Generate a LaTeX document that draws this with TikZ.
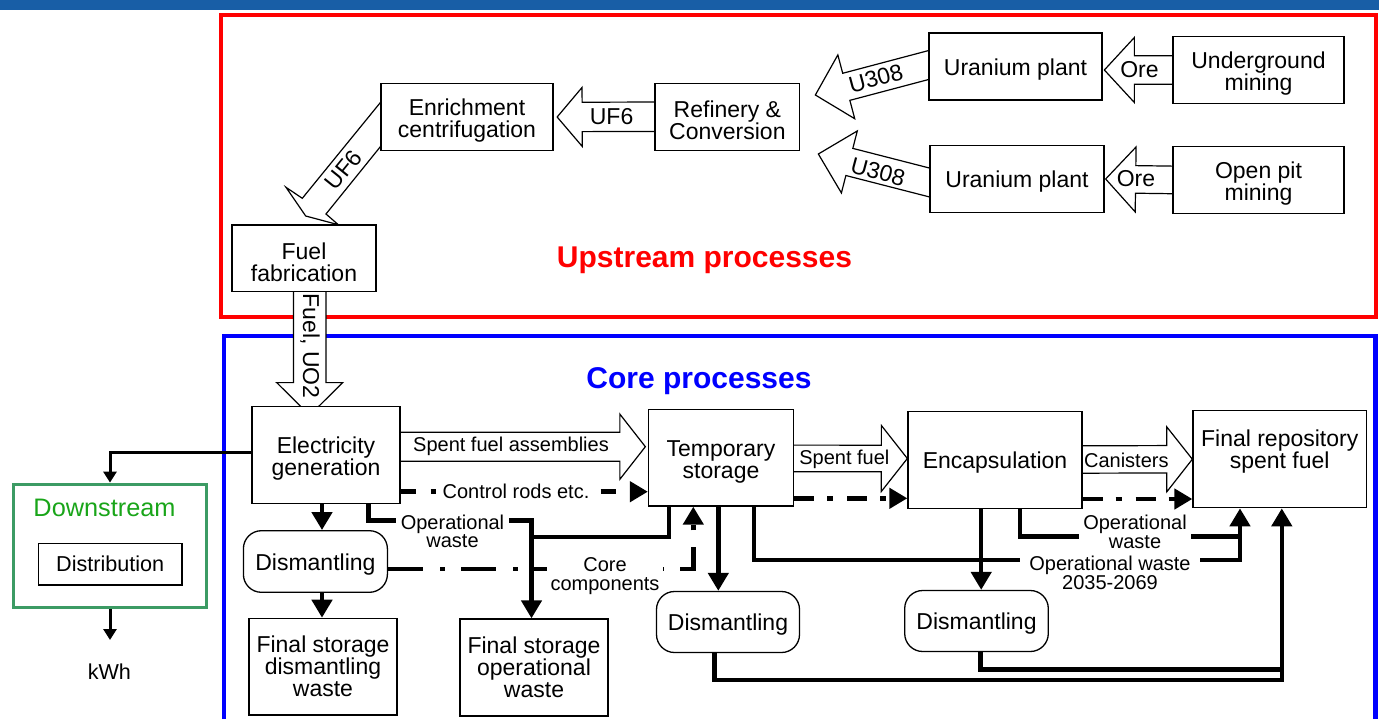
\documentclass[tikz,border=0pt]{standalone}
\usepackage{fontspec}
\setmainfont{Liberation Sans}
\usetikzlibrary{arrows.meta,calc}
\pgfdeclarelayer{back}
\pgfdeclarelayer{bg}
\pgfdeclarelayer{mid}
\pgfsetlayers{back,bg,mid,main}
\definecolor{topbar}{RGB}{24,94,166}
\definecolor{upred}{RGB}{255,0,0}
\definecolor{coreblue}{RGB}{0,0,255}
\definecolor{dgreen}{RGB}{60,155,100}
\definecolor{dtext}{RGB}{25,165,25}
\newcommand\mainfs{\fontsize{23}{22}\selectfont}
\newcommand\lblfs{\fontsize{20}{18.5}\selectfont}
\newcommand\blockarrow[5]{%
  \coordinate (ba-s) at #1;
  \coordinate (ba-t) at #2;
  \coordinate (ba-h) at ($(ba-t)!#5!(ba-s)$);
  \draw[hollow] ($(ba-s)!#3!90:(ba-t)$) -- ($(ba-h)!#3!90:(ba-t)$)
    -- ($(ba-h)!#4!90:(ba-t)$) -- (ba-t) -- ($(ba-h)!#4!-90:(ba-t)$)
    -- ($(ba-h)!#3!-90:(ba-t)$) -- ($(ba-s)!#3!-90:(ba-t)$) -- cycle;}
\begin{document}
\begin{tikzpicture}[x=1pt,y=-1pt,
  fbox/.style={draw, line width=1.3pt, fill=white, align=center, inner sep=2pt, font=\mainfs},
  box/.style={fbox, text height=22.5pt},
  box2/.style={fbox, text height=46.5pt},
  rbox/.style={box, rounded corners=18pt},
  txt/.style={align=center, inner sep=1pt, font=\mainfs},
  lbl/.style={align=center, inner sep=1pt, font=\lblfs},
  wlbl/.style={lbl, fill=white, inner xsep=4pt, inner ysep=1pt},
  hollow/.style={draw, line width=1.2pt, fill=white, line join=miter},
  wline/.style={line width=4.5pt, line join=miter},
  flow/.style={wline, -{Triangle[width=20pt,length=18pt]}},
  tflow/.style={line width=3pt, line join=miter, -{Triangle[width=13pt,length=11pt]}},
  dd1/.style={flow, dash pattern=on 15pt off 15pt on 5pt off 15pt},
  dd2/.style={flow, dash pattern=on 20pt off 13pt on 6pt off 14pt},
  dd3/.style={flow, dash pattern=on 35pt off 17pt on 5pt off 16pt},
  title/.style={font=\fontsize{30}{32}\selectfont\bfseries, inner sep=1pt}
]
\useasboundingbox (0,0) rectangle (1379,718);

% ---------- frames ----------
\begin{pgfonlayer}{back}
\fill[topbar] (0,0) rectangle (1379,9.5);
\draw[upred, line width=4.5pt] (221,15) rectangle (1376,317);
\draw[coreblue, line width=4.5pt] (224,336) rectangle (1375.5,740);
\end{pgfonlayer}

\node[title, text=upred] (uptitle) at (704.5,260.7) {Upstream processes};
\node[title, text=coreblue] (coretitle) at (699,380.7) {Core processes};

% ---------- upstream boxes ----------
\node[box2, minimum width=172pt, minimum height=67pt] (enr) at (467,116.7) {Enrichment\\centrifugation};
\node[box2, minimum width=144.7pt, minimum height=67pt] (ref) at (727.4,116.7) {Refinery \&\\Conversion};
\node[box, minimum width=173pt, minimum height=67pt] (up1) at (1015.5,66.5) {Uranium plant};
\node[box2, minimum width=171pt, minimum height=66.7pt] (ug) at (1258.5,70) {Underground\\mining};
\node[box, minimum width=174pt, minimum height=66.7pt] (up2) at (1017,179) {Uranium plant};
\node[box2, minimum width=171pt, minimum height=66.7pt] (op) at (1258.5,180) {Open pit\\mining};
\node[box2, minimum width=144pt, minimum height=66.7pt] (fuel) at (304,258.3) {Fuel\\fabrication};

% ---------- core boxes ----------
\node[box2, minimum width=148pt, minimum height=96.7pt] (elec) at (326,455) {Electricity\\generation};
\node[box2, minimum width=145pt, minimum height=96.7pt] (temp) at (721,457.7) {Temporary\\storage};
\node[box, minimum width=174pt, minimum height=96.7pt] (enc) at (995,460) {Encapsulation};
\node[fbox, minimum width=173.4pt, minimum height=97pt] (repo) at (1279.7,459.2) {};
\node[txt] (repotxt) at (1279.7,451.5) {Final repository\\spent fuel};
\node[rbox, minimum width=144pt, minimum height=61.6pt] (dis1) at (315.4,561.5) {Dismantling};
\node[rbox, minimum width=143pt, minimum height=61pt] (dis2) at (728,622) {Dismantling};
\node[rbox, minimum width=143.6pt, minimum height=61pt] (dis3) at (976.5,621) {Dismantling};
\node[fbox, minimum width=148pt, minimum height=96.7pt] (fsd) at (323,666.7) {Final storage\\dismantling\\waste};
\node[fbox, minimum width=148pt, minimum height=97pt] (fso) at (534,667.5) {Final storage\\operational\\waste};

% ---------- downstream ----------
\node[draw=dgreen, line width=3.2pt, minimum width=193pt, minimum height=123pt] (down) at (110,545.7) {};
\node[text=dtext, font=\fontsize{25.3}{28}\selectfont, inner sep=1pt] (downlbl) at (104.5,508.3) {Downstream};
\node[fbox, font=\fontsize{21.6}{24}\selectfont, minimum width=143.6pt, minimum height=41.7pt] (dist) at (110.2,564.2) {Distribution};
\node[font=\fontsize{21.6}{24}\selectfont, inner sep=1pt] (kwh) at (109.4,671.7) {kWh};
\coordinate (kwhin) at (110,640);

% ---------- hollow arrows ----------
\begin{pgfonlayer}{bg}
\blockarrow{($(ref.west)+(6,0)$)}{($(enr.east)+(3.5,0.3)$)}{14.7pt}{29.5pt}{25pt}
\blockarrow{($(up1.west)+(6,-3)$)}{($(up1.west)+(-113,28.5)$)}{14pt}{33pt}{32pt}
\blockarrow{($(up2.west)+(6,5)$)}{($(up2.west)+(-111,-25)$)}{14pt}{32pt}{32pt}
\blockarrow{($(ug.west)+(6,0)$)}{($(up1.east)+(1.7,3.5)$)}{14.2pt}{32.5pt}{30pt}
\blockarrow{($(op.west)+(6,0)$)}{($(up2.east)+(1,0)$)}{13.8pt}{32.5pt}{30pt}
\blockarrow{($(fuel.south)+(5.7,-6)$)}{($(elec.north)+(-16.3,9.3)$)}{16.3pt}{33pt}{32.7pt}
\blockarrow{($(elec.east)+(-5,-8.3)$)}{($(temp.west)+(-2.5,-11)$)}{14.5pt}{32.6pt}{25.5pt}
\blockarrow{($(temp.east)+(-5,0.7)$)}{($(enc.west)+(0,-1.5)$)}{13.3pt}{33pt}{26pt}
\blockarrow{($(enc.east)+(-5,-0.5)$)}{($(repo.west)+(0,0)$)}{13.7pt}{32.5pt}{25.6pt}
\draw[hollow] (386.5,95) -- (302.3,198.3) -- (286,187.3) -- (305.7,216) -- (338.3,224.7) -- (326,214) -- (389.8,135) -- cycle;

% ---------- thick connectors ----------
\draw[flow] ($(elec.south)+(-4,0)$) -- ($(dis1.north)+(6.6,0)$);
\draw[flow] ($(dis1.south)+(6.6,0)$) -- ($(fsd.north)+(-1,0)$);
\coordinate (owA) at (531.5,520.5);
\coordinate (owB) at (531.5,537);
\draw[flow] ($(elec.south)+(42.3,0)$) |- (owA) -- ($(fso.north)+(-2.5,0)$);
\draw[wline] ($(temp.south)+(-52,0)$) |- (owB);
\coordinate (rj1) at (1240,560);
\coordinate (rj2) at (1240,536.7);
\draw[flow] ($(temp.south)+(33,0)$) |- (rj1) -- ($(repo.south)+(-39.7,0)$);
\draw[wline] ($(enc.south)+(25,0)$) |- (rj2);
\draw[flow] ($(temp.south)+(-2.7,0)$) -- ($(dis2.north)+(-9.7,0)$);
\draw[flow] ($(enc.south)+(-13.8,0)$) -- ($(dis3.north)+(4.7,0)$);
\coordinate (rj3) at (1281.8,680);
\coordinate (rj4) at (1281.8,669.3);
\draw[flow] ($(dis2.south)+(-13.3,0)$) |- (rj3) -- ($(repo.south)+(2.1,0)$);
\draw[wline] ($(dis3.south)+(3.8,0)$) |- (rj4);

% ---------- dash-dot connectors ----------
\draw[dd1] ($(elec.east)+(0,36.7)$) -- ($(temp.west)+(0,34)$);
\draw[dd2] ($(temp.east)+(0,40.6)$) -- ($(enc.west)+(0,38.3)$);
\draw[dd2] ($(enc.east)+(0,39)$) -- ($(repo.west)+(0,39.8)$);
\draw[dd3] ($(dis1.east)+(0,7.5)$) -| ($(temp.south)+(-27.7,0)$);

% ---------- downstream connectors ----------
\draw[tflow] ($(elec.west)+(0,-2.7)$) -| (down.north);
\draw[tflow] (down.south) -- (kwhin);
\end{pgfonlayer}

% ---------- labels ----------
\begin{pgfonlayer}{mid}
\node[wlbl] (lcr) at (516,491.7) {Control rods etc.};
\node[wlbl, inner xsep=5pt] (low1) at (452.5,531.2) {Operational\\waste};
\node[wlbl] (lcc) at (605,576) {Core\\components};
\node[wlbl, inner xsep=4pt] (low2) at (1135,531.7) {Operational\\waste};
\node[wlbl, inner xsep=9pt] (low3) at (1110,573) {Operational waste\\2035-2069};
\end{pgfonlayer}

\node[txt] (luf6a) at (611.6,117) {UF6};
\node[txt, rotate=15] (lu308a) at (875.8,78.3) {U308};
\node[txt, rotate=-15] (lu308b) at (878,171.7) {U308};
\node[txt] (lorea) at (1139.5,70) {Ore};
\node[txt] (loreb) at (1136,179) {Ore};
\node[txt, rotate=51] (luf6b) at (343.3,170) {UF6};
\node[txt, rotate=-90] (lfuel) at (310,346) {Fuel, UO2};
\node[lbl] (lsfa) at (511,446) {Spent fuel assemblies};
\node[lbl] (lsf) at (844.4,459.3) {Spent fuel};
\node[lbl] (lcan) at (1126.3,460) {Canisters};
\end{tikzpicture}
\end{document}
